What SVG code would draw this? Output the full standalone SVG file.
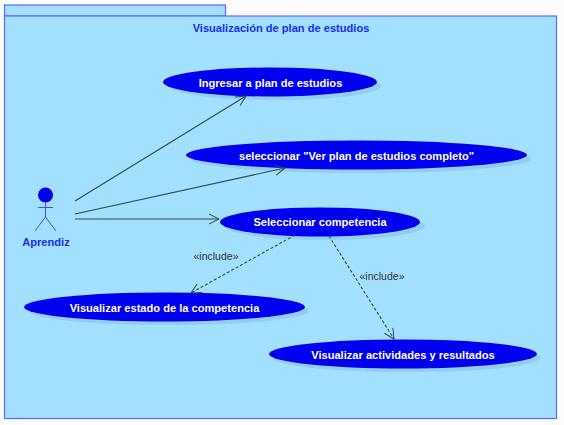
<svg xmlns="http://www.w3.org/2000/svg" width="564" height="425" viewBox="0 0 564 425">
<style>
.uc{fill:#0000f0}
.sh{fill:#93cdf0}
.ut{font:bold 11.100px "Liberation Sans",Arial,sans-serif;fill:#fff;text-anchor:middle}
.bl{font:bold 11.100px "Liberation Sans",Arial,sans-serif;fill:#1a2cf0;text-anchor:middle}
.inc{font:10.500px "Liberation Sans",Arial,sans-serif;fill:#333;text-anchor:middle}
.c{fill:none;stroke:#2f4a50;stroke-width:1.100}
.d{stroke-dasharray:3 2}
.a{stroke:#3b50f0;stroke-width:1;fill:none}
</style>
<defs>
<marker id="arr" markerUnits="userSpaceOnUse" markerWidth="12" markerHeight="12" refX="10" refY="5" orient="auto" overflow="visible"><path d="M0 0L10 5L0 10" fill="none" stroke="#2f4a50" stroke-width="1"/></marker>
</defs>
<rect width="564" height="425" fill="#fcfcfe"/>
<g id="package">
<rect x="4.500" y="5" width="221" height="11" fill="#a3dfff" stroke="#5a6cff" stroke-width="1.200"/>
<rect x="4.500" y="16" width="552" height="402.500" fill="#a3dfff" stroke="#5a6cff" stroke-width="1.200"/>
<text class="bl" x="281" y="32">Visualización de plan de estudios</text>
</g>
<g id="actor">
<circle cx="45.500" cy="195" r="7.500" fill="#0000f0"/>
<path class="a" d="M45.500 202V217M38 207.500H53M45.500 217L35 231M45.500 217L56 231"/>
<text class="bl" x="46" y="246">Aprendiz</text>
</g>
<g id="uc1"><ellipse class="sh" cx="275" cy="86" rx="106" ry="14"/><ellipse class="uc" cx="270" cy="82" rx="107" ry="14.500"/><text class="ut" x="270.500" y="87">Ingresar a plan de estudios</text></g>
<g id="uc2"><ellipse class="sh" cx="361" cy="159" rx="170" ry="14"/><ellipse class="uc" cx="356.500" cy="155" rx="170.500" ry="14.500"/><text class="ut" x="356.500" y="160">seleccionar "Ver plan de estudios completo"</text></g>
<g id="uc3"><ellipse class="sh" cx="325" cy="226" rx="100" ry="14"/><ellipse class="uc" cx="320" cy="222" rx="100" ry="14.500"/><text class="ut" x="320" y="226">Seleccionar competencia</text></g>
<g id="uc4"><ellipse class="sh" cx="169" cy="311" rx="140" ry="14"/><ellipse class="uc" cx="164.500" cy="307" rx="140.500" ry="14.500"/><text class="ut" x="164.500" y="312">Visualizar estado de la competencia</text></g>
<g id="uc5"><ellipse class="sh" cx="407" cy="358" rx="134" ry="14"/><ellipse class="uc" cx="403" cy="354" rx="134" ry="14.500"/><text class="ut" x="403" y="359">Visualizar actividades y resultados</text></g>
<g id="connectors">
<path class="c" marker-end="url(#arr)" d="M75 201L246 96"/>
<path class="c" marker-end="url(#arr)" d="M75 214L285 168"/>
<path class="c" marker-end="url(#arr)" d="M75 219L219 219"/>
<path class="c d" marker-end="url(#arr)" d="M295 235L191 293"/>
<path class="c d" marker-end="url(#arr)" d="M329 236L394 339"/>
<text class="inc" x="216" y="260">«include»</text>
<text class="inc" x="382" y="280">«include»</text>
</g>
</svg>
